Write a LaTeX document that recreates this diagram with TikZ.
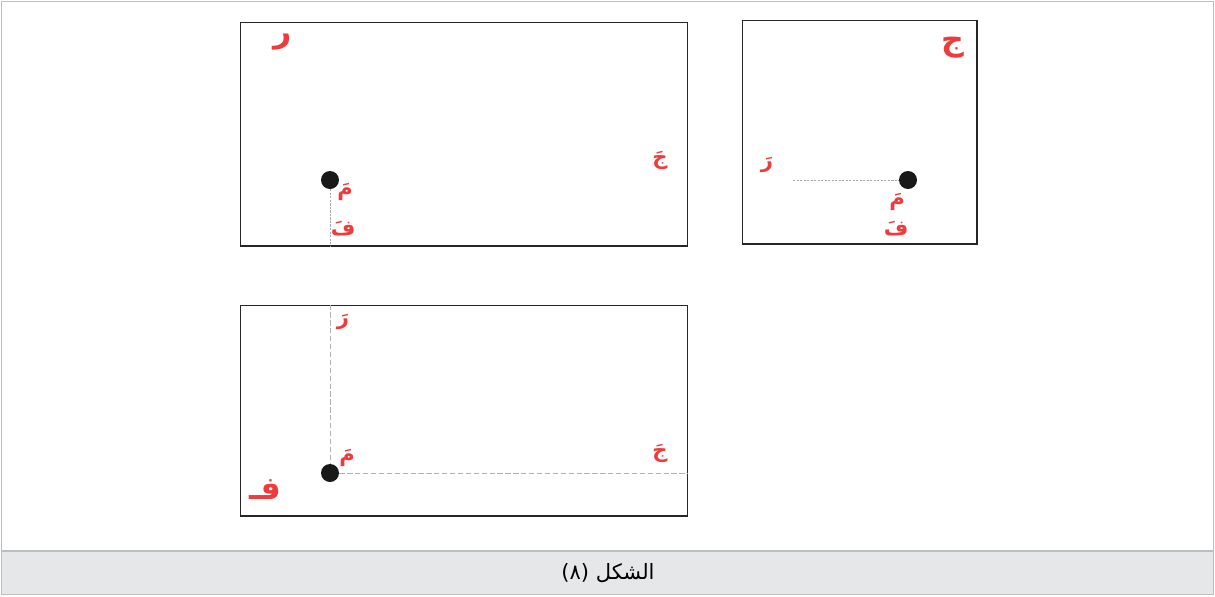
\documentclass[tikz,border=0pt]{standalone}
\usepackage{fontspec}
\newfontfamily\arabicfont[Script=Arabic]{DejaVu Sans}
\TeXXeTstate=1
\usetikzlibrary{positioning}
\definecolor{lblred}{HTML}{EE3B3B}
\definecolor{capgray}{HTML}{E6E7E8}
\definecolor{rimgray}{HTML}{BCBEC0}
\tikzstyle{panel} = [rectangle, draw=black!85, line width=0.6pt, inner sep=0pt]
\tikzstyle{point} = [circle, fill=black!90, minimum size=0.36cm, inner sep=0pt]
\tikzstyle{lbl} = [text=lblred, inner sep=0pt, font=\arabicfont\bfseries\fontsize{12}{12}\selectfont]
\tikzstyle{biglbl} = [text=lblred, inner sep=0pt, font=\arabicfont\bfseries\fontsize{18}{18}\selectfont]
\tikzstyle{guide} = [black!35, line width=0.4pt, dash pattern=on 1.2pt off 0.8pt]
\tikzstyle{dashguide} = [black!30, line width=0.4pt, dash pattern=on 3pt off 1.5pt]

\begin{document}
\begin{tikzpicture}[x=0.02cm, y=-0.02cm]
			\useasboundingbox (0,0) rectangle (1215,596);
			% frame and caption band
			\fill [capgray] (1.5,551) rectangle (1213.5,594.5);
			\draw [rimgray, line width=1.1pt] (1.5,1.5) rectangle (1213.5,594.5);
			\draw [rimgray, line width=1.1pt] (1.5,551) -- (1213.5,551);
			\node (cap) at (608,573) [font=\arabicfont\fontsize{12}{12}\selectfont] {\beginR الشكل (٨)\endR};

			% first panel
			\node (p1) at (464,134) [panel, minimum width=8.96cm, minimum height=4.48cm] {};
			\node (m1) at (330,180) [point] {};
			\draw [guide] (m1.south) -- (m1 |- p1.south);
			\node (r1) at (283,42) [biglbl] {\beginR ر\endR};
			\node (j1) at (660,160) [lbl] {\beginR جَ\endR};
			\node (mm1) at (345,192) [lbl] {\beginR مَ\endR};
			\node (f1) at (343,229) [lbl] {\beginR فَ\endR};

			% second panel
			\node (p2) at (859.5,132) [panel, minimum width=4.7cm, minimum height=4.48cm] {};
			\node (m2) at (908,180) [point] {};
			\coordinate (g2) at (793,180);
			\draw [guide] (g2) -- (m2.west);
			\node (j2) at (953,48) [biglbl] {\beginR ج\endR};
			\node (r2) at (767,165) [lbl] {\beginR رَ\endR};
			\node (mm2) at (897,202) [lbl] {\beginR مَ\endR};
			\node (f2) at (896,229) [lbl] {\beginR فَ\endR};

			% third panel
			\node (p3) at (464,410.5) [panel, minimum width=8.96cm, minimum height=4.22cm] {};
			\node (m3) at (330,473) [point] {};
			\draw [dashguide] (m3 |- p3.north) -- (m3.north);
			\draw [dashguide] (m3.east) -- (m3 -| p3.east);
			\node (r3) at (343,322) [lbl] {\beginR رَ\endR};
			\node (mm3) at (347,458) [lbl] {\beginR مَ\endR};
			\node (j3) at (660,453) [lbl] {\beginR جَ\endR};
			\node (f3) at (265,490) [biglbl] {\beginR فـ\endR};
		\end{tikzpicture}
\end{document}
